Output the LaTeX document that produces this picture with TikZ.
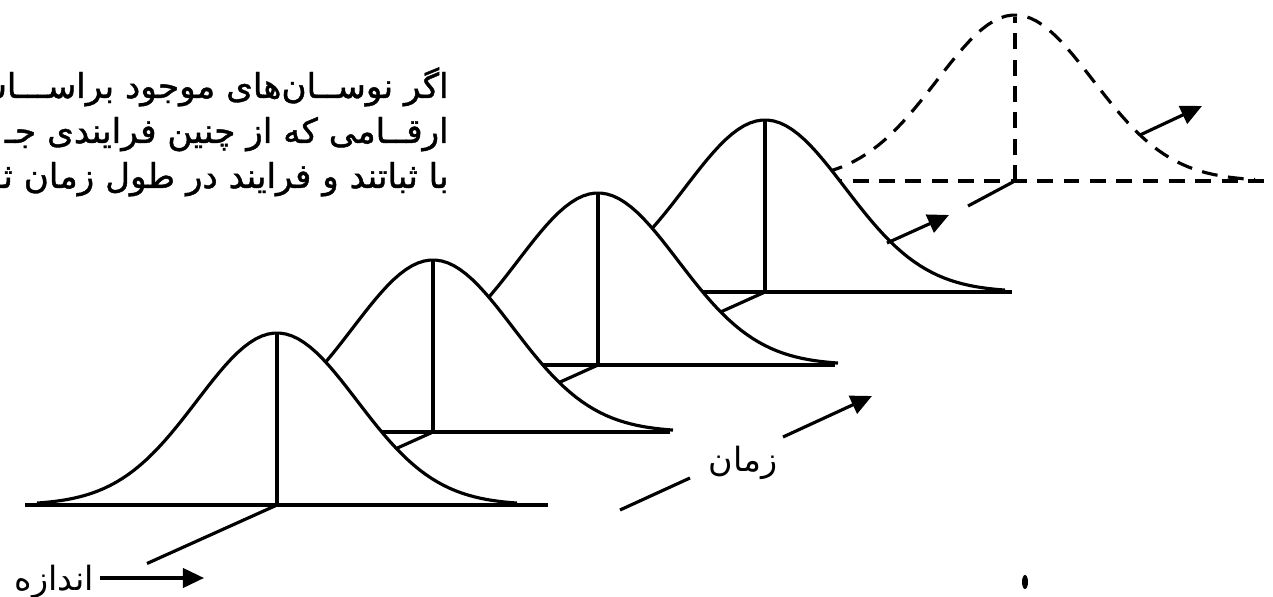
\documentclass[tikz,border=0pt]{standalone}
\usepackage{fontspec}
\newfontfamily\arabicfont[Script=Arabic]{DejaVu Sans}
\newfontfamily\arabicbold[Script=Arabic,FakeBold=1.2]{DejaVu Sans}
\TeXXeTstate=1
\usetikzlibrary{arrows.meta}

\begin{document}
\begin{tikzpicture}[x=0.02cm,y=-0.02cm,
  curve/.style={line width=1.8pt,line join=round},
  dashcurve/.style={curve,dash pattern=on 9pt off 6pt},
  arr/.style={line width=1.8pt,-{Triangle[length=12pt,width=11pt]}},
  fa/.style={font=\arabicfont\fontsize{19}{24}\selectfont,inner sep=0pt},
  captext/.style={font=\arabicbold\fontsize{19.5}{24}\selectfont,inner sep=0pt,anchor=base east}]
\useasboundingbox (0,0) rectangle (1273,597);
\clip (0,0) rectangle (1273,597);
% caption text, cut at the left edge
\node[captext] (line1) at (449,98) {\beginR اگر نوســان‌های موجود براســـاس\endR};
\node[captext] (line2) at (449,143) {\beginR ارقــامی که از چنین فرایندی جـ\endR};
\node[captext] (line3) at (449,188) {\beginR با ثباتند و فرایند در طول زمان ثـ\endR};
% dashed bell, furthest in time
\draw[dashcurve] plot[domain=-240:240,samples=80,variable=\t] ({1015+\t},{181-166*exp(-0.5*(\t/78)*(\t/78))});
\draw[dashcurve] (1015,181) -- (1015,17);
\draw[dashcurve] (800,181) -- (1273,181);
\draw[curve] (1013,182) -- (968,206);
% solid bells, back to front
\foreach \cx/\by/\bl/\br/\dl in {765/292/640/1012/70,598/365/470/835/70,433/432/300/670/70,277/505/25/548/130}{
  \fill[white] plot[domain=-240:240,samples=80,variable=\t] ({\cx+\t},{\by-172*exp(-0.5*(\t/80)*(\t/80))}) -- cycle;
  \draw[curve] plot[domain=-240:240,samples=80,variable=\t] ({\cx+\t},{\by-172*exp(-0.5*(\t/80)*(\t/80))});
  \draw[curve] (\bl,\by) -- (\br,\by);
  \draw[curve] (\cx,\by) -- (\cx,\by-172);
  \draw[curve] (\cx,\by) -- ++({-\dl},{0.45*\dl});
}
% shift arrows
\coordinate (shiftA) at (887,243);
\coordinate (shiftB) at (949,215);
\draw[arr] (shiftA) -- (shiftB);
\coordinate (shiftC) at (1140,135);
\coordinate (shiftD) at (1202,106);
\draw[arr] (shiftC) -- (shiftD);
% time axis
\node[fa] (time) at (743,463) {\beginR زمان\endR};
\coordinate (timeA) at (620,510);
\coordinate (timeB) at (690,478);
\draw[curve] (timeA) -- (timeB);
\coordinate (timeC) at (783,437);
\coordinate (timeD) at (872,396);
\draw[arr] (timeC) -- (timeD);
% size axis
\node[fa,anchor=base east] (size) at (94,590) {\beginR اندازه\endR};
\coordinate (sizeA) at (100,578);
\coordinate (sizeB) at (204,578);
\draw[arr] (sizeA) -- (sizeB);
\fill (1025,582) ellipse [x radius=0.06cm,y radius=0.14cm];
\end{tikzpicture}
\end{document}
